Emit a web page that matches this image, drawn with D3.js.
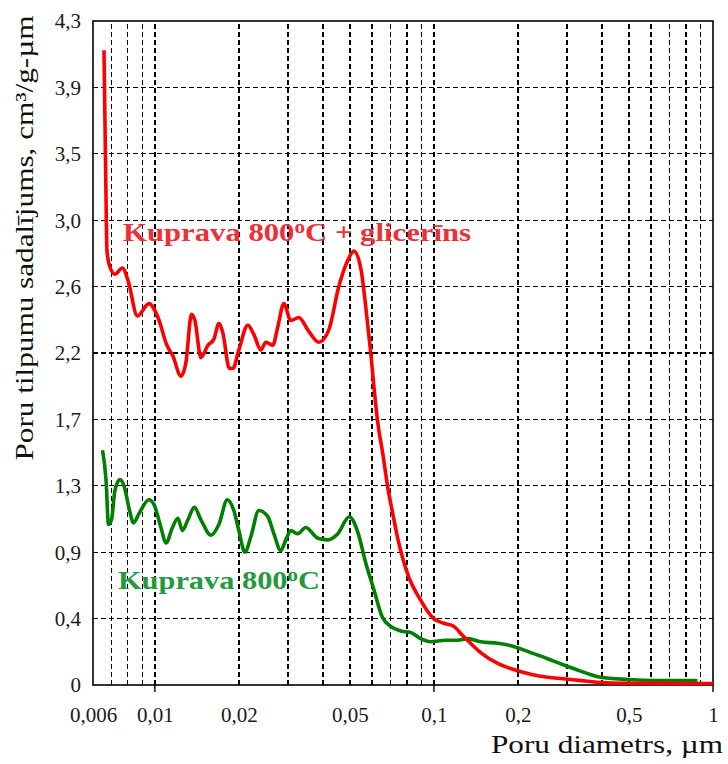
<!DOCTYPE html>
<html>
<head>
<meta charset="utf-8">
<script src="https://cdn.jsdelivr.net/npm/d3@7"></script>
<style>
  html, body { margin: 0; padding: 0; background: #fff; }
  svg { display: block; font-family: "Liberation Serif", "Times New Roman", serif; }
</style>
</head>
<body>
<svg id="chart" width="728" height="764"></svg>
<script>
// Pore diameter (µm) and pore volume distribution (cm³/g-µm)
const glycerolDiameter = [0.00657, 0.00662, 0.00668, 0.00673, 0.00684, 0.00719, 0.00765, 0.00801, 0.00866, 0.00952,
  0.01026, 0.01104, 0.01160, 0.01240, 0.01292, 0.01352, 0.01391, 0.01462, 0.01549, 0.01627,
  0.01695, 0.01752, 0.01849, 0.01903, 0.01999, 0.02153, 0.02262, 0.02397, 0.02498, 0.02646,
  0.02757, 0.02897, 0.03069, 0.03278, 0.03560, 0.03867, 0.04200, 0.04561, 0.04912, 0.05161,
  0.05467, 0.05697, 0.05937, 0.06111, 0.06290, 0.06554, 0.06830, 0.07117, 0.07417, 0.08120,
  0.08818, 0.09978, 0.1084, 0.1177, 0.1267, 0.1353, 0.1470, 0.1692, 0.1930, 0.2220,
  0.2554, 0.2914, 0.3298, 0.3954, 0.4778, 1.0];
const glycerolVolume = [4.11, 3.68, 3.16, 2.82, 2.73, 2.66, 2.70, 2.62, 2.39, 2.47,
  2.38, 2.20, 2.13, 2.00, 2.09, 2.40, 2.36, 2.12, 2.20, 2.24,
  2.34, 2.28, 2.05, 2.05, 2.17, 2.33, 2.27, 2.17, 2.22, 2.20,
  2.32, 2.47, 2.36, 2.38, 2.29, 2.22, 2.30, 2.58, 2.75, 2.81,
  2.70, 2.45, 2.15, 1.91, 1.70, 1.50, 1.28, 1.11, 0.95, 0.70,
  0.57, 0.43, 0.40, 0.38, 0.32, 0.27, 0.21, 0.14, 0.10, 0.07,
  0.05, 0.04, 0.03, 0.016, 0.011, 0.010];

const plainDiameter = [0.00649, 0.00668, 0.00682, 0.00699, 0.00719, 0.00749, 0.00778, 0.00811, 0.00838, 0.00877,
  0.00952, 0.00992, 0.01051, 0.01096, 0.01156, 0.01209, 0.01255, 0.01313, 0.01385, 0.01462,
  0.01587, 0.01695, 0.01818, 0.01918, 0.01999, 0.02101, 0.02207, 0.02357, 0.02539, 0.02668,
  0.02826, 0.02945, 0.03069, 0.03251, 0.03473, 0.03835, 0.04165, 0.04524, 0.04973, 0.05334,
  0.05697, 0.06086, 0.06527, 0.06999, 0.07602, 0.08255, 0.08964, 0.09735, 0.1102, 0.1216,
  0.1320, 0.1470, 0.1692, 0.1930, 0.2220, 0.2554, 0.2914, 0.3353, 0.3954, 0.4938,
  0.6324, 0.8797];
const plainVolume = [1.52, 1.33, 1.04, 1.07, 1.26, 1.33, 1.28, 1.13, 1.05, 1.11,
  1.20, 1.17, 1.02, 0.92, 1.02, 1.08, 1.00, 1.07, 1.15, 1.07,
  0.97, 1.04, 1.20, 1.13, 1.00, 0.86, 0.96, 1.13, 1.09, 0.98,
  0.87, 0.94, 1.00, 0.98, 1.02, 0.95, 0.94, 0.98, 1.09, 0.99,
  0.79, 0.62, 0.44, 0.38, 0.35, 0.34, 0.30, 0.28, 0.29, 0.29,
  0.30, 0.28, 0.27, 0.25, 0.21, 0.17, 0.13, 0.09, 0.05, 0.036,
  0.029, 0.028];

const xTickValues = [0.006, 0.01, 0.02, 0.05, 0.1, 0.2, 0.5, 1];
const xTickLabels = ["0,006", "0,01", "0,02", "0,05", "0,1", "0,2", "0,5", "1"];
const xGridValues = [0.007, 0.008, 0.009, 0.01, 0.02, 0.03, 0.04, 0.05, 0.06, 0.07, 0.08, 0.09,
  0.1, 0.2, 0.3, 0.4, 0.5, 0.6, 0.7, 0.8, 0.9];
const xMajorTicks = [0.01, 0.1, 1];
const yTickValues = [0, 0.43, 0.86, 1.29, 1.72, 2.15, 2.58, 3.01, 3.44, 3.87, 4.3];
const yTickLabels = ["0", "0,4", "0,9", "1,3", "1,7", "2,2", "2,6", "3,0", "3,5", "3,9", "4,3"];

const seriesNames = ["Kuprava 800", "Kuprava 800"];

const svg = d3.select("#chart");
const plotLeft = 93, plotRight = 713, plotTop = 21, plotBottom = 685;

const x = d3.scaleLog().domain([0.006, 1]).range([plotLeft, plotRight]);
const y = d3.scaleLinear().domain([0, 4.3]).range([plotBottom, plotTop]);

// dashed grid
const grid = svg.append("g").attr("stroke", "#000").attr("stroke-width", 1.2)
  .attr("stroke-dasharray", "5,3").attr("shape-rendering", "crispEdges");
grid.selectAll("line.v").data(xGridValues).join("line").attr("class", "v")
  .attr("x1", d => x(d)).attr("x2", d => x(d)).attr("y1", plotBottom).attr("y2", plotTop);
grid.selectAll("line.h").data(yTickValues.slice(1, -1)).join("line").attr("class", "h")
  .attr("x1", plotLeft).attr("x2", plotRight).attr("y1", d => y(d)).attr("y2", d => y(d));

// plot frame
svg.append("rect").attr("x", plotLeft).attr("y", plotTop)
  .attr("width", plotRight - plotLeft).attr("height", plotBottom - plotTop)
  .attr("fill", "none").attr("stroke", "#000").attr("stroke-width", 1.6);

// decade tick marks
svg.append("g").selectAll("line").data(xMajorTicks).join("line")
  .attr("x1", d => x(d)).attr("x2", d => x(d)).attr("y1", plotBottom).attr("y2", plotBottom + 7)
  .attr("stroke", "#000").attr("stroke-width", 1.4);

// curves
const line = d3.line().x(d => x(d[0])).y(d => y(d[1])).curve(d3.curveMonotoneX);
const plainPts = plainDiameter.map((d, i) => [d, plainVolume[i]]);
const glycerolPts = glycerolDiameter.map((d, i) => [d, glycerolVolume[i]]);

svg.append("path").datum(plainPts).attr("d", line)
  .attr("fill", "none").attr("stroke", "#008000").attr("stroke-width", 3.6).attr("stroke-linejoin", "round");
svg.append("path").datum(glycerolPts).attr("d", line)
  .attr("fill", "none").attr("stroke", "#ff0000").attr("stroke-width", 3.6).attr("stroke-linejoin", "round");

// x axis labels
const xAxis = svg.append("g").attr("transform", `translate(0,${plotBottom})`)
  .call(d3.axisBottom(x).tickValues(xTickValues).tickSize(0).tickFormat((d, i) => xTickLabels[i]));
xAxis.select(".domain").remove();
xAxis.selectAll("text").attr("y", 37).attr("dy", null)
  .attr("font-size", 21).attr("fill", "#1a1a1a").attr("font-family", "Liberation Serif");

// y axis labels
const yAxis = svg.append("g").attr("transform", `translate(${plotLeft},0)`)
  .call(d3.axisLeft(y).tickValues(yTickValues).tickSize(0).tickPadding(12).tickFormat((d, i) => yTickLabels[i]));
yAxis.select(".domain").remove();
yAxis.selectAll("text").attr("dy", "0.33em")
  .attr("font-size", 21).attr("fill", "#1a1a1a").attr("font-family", "Liberation Serif");

// axis titles
svg.append("text").attr("x", 723).attr("y", 753).attr("text-anchor", "end")
  .attr("font-size", 25).attr("fill", "#111")
  .attr("textLength", 232).attr("lengthAdjust", "spacingAndGlyphs")
  .text("Poru diametrs, µm");

svg.append("text").attr("transform", "translate(33,238) rotate(-90)").attr("text-anchor", "middle")
  .attr("font-size", 25).attr("fill", "#111")
  .attr("textLength", 445).attr("lengthAdjust", "spacingAndGlyphs")
  .text("Poru tilpumu sadalījums, cm³/g-µm");

// series labels
function seriesLabel(xPos, yPos, width, color, name, suffix) {
  const t = svg.append("text").attr("x", xPos).attr("y", yPos)
    .attr("font-size", 26).attr("font-weight", "bold").attr("fill", color)
    .attr("textLength", width).attr("lengthAdjust", "spacingAndGlyphs");
  t.append("tspan").text(name);
  t.append("tspan").attr("font-size", 18).attr("dy", -8).text("o");
  t.append("tspan").attr("dy", 8).text("C" + suffix);
}
seriesLabel(123, 241, 348, "#ee2f38", seriesNames[0], " + glicerīns");
seriesLabel(118, 589, 202, "#249a3e", seriesNames[1], "");
</script>
</body>
</html>
